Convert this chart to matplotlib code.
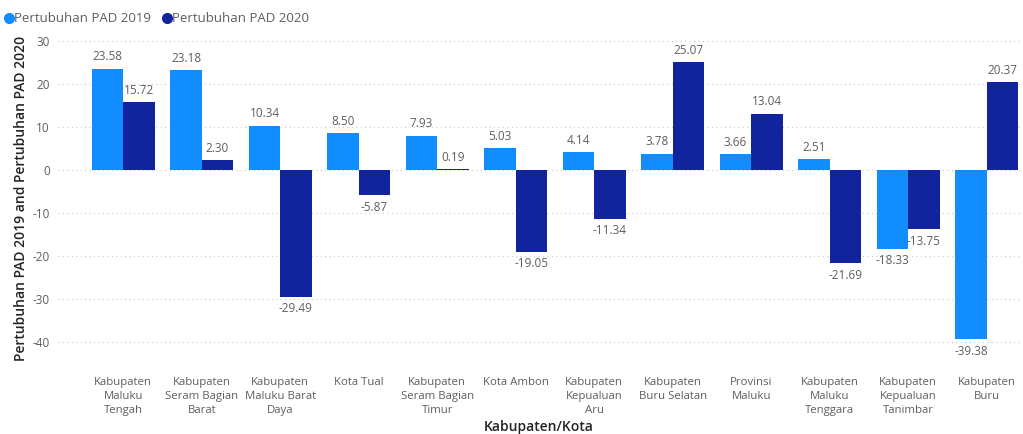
import numpy as np
import matplotlib.pyplot as plt

plt.rcParams['font.family'] = ['Open Sans', 'DejaVu Sans']
plt.rcParams['axes.unicode_minus'] = False

categories = ['Kabupaten\nMaluku\nTengah', 'Kabupaten\nSeram Bagian\nBarat',
              'Kabupaten\nMaluku Barat\nDaya', 'Kota Tual',
              'Kabupaten\nSeram Bagian\nTimur', 'Kota Ambon',
              'Kabupaten\nKepualuan\nAru', 'Kabupaten\nBuru Selatan',
              'Provinsi\nMaluku', 'Kabupaten\nMaluku\nTenggara',
              'Kabupaten\nKepualuan\nTanimbar', 'Kabupaten\nBuru']
pad_2019 = [23.58, 23.18, 10.34, 8.50, 7.93, 5.03, 4.14, 3.78, 3.66, 2.51, -18.33, -39.38]
pad_2020 = [15.72, 2.30, -29.49, -5.87, 0.19, -19.05, -11.34, 25.07, 13.04, -21.69, -13.75, 20.37]

c2019 = '#118DFF'
c2020 = '#12239E'
grey = '#605E5C'

fig = plt.figure(figsize=(10.23, 4.34), dpi=100)
ax = fig.add_axes([0.0567, 0.1624, 0.940, 0.7629])

x = np.arange(len(categories))
w = 0.4
b1 = ax.bar(x - w / 2, pad_2019, w, color=c2019, label='Pertubuhan PAD 2019', zorder=3)
b2 = ax.bar(x + w / 2, pad_2020, w, color=c2020, label='Pertubuhan PAD 2020', zorder=3)

for bars, vals in ((b1, pad_2019), (b2, pad_2020)):
    for r, v in zip(bars, vals):
        cx = r.get_x() + r.get_width() / 2
        if v >= 0:
            ax.annotate(f'{v:.2f}', (cx, v), xytext=(0, 4), textcoords='offset points',
                        ha='center', va='bottom', fontsize=8.5, color=grey)
        else:
            ax.annotate(f'{v:.2f}', (cx, v), xytext=(0, -4), textcoords='offset points',
                        ha='center', va='top', fontsize=8.5, color=grey)

ax.set_xlim(-0.831, 11.42)
ax.set_ylim(-45, 32)
ax.set_yticks([30, 20, 10, 0, -10, -20, -30, -40])
ax.yaxis.grid(True, linestyle=(0, (1, 3)), color='#C8C8C8', linewidth=0.8, zorder=0)
for s in ax.spines.values():
    s.set_visible(False)
ax.tick_params(axis='both', length=0, labelsize=8.5, colors=grey, pad=6)
ax.set_xticks(x)
ax.set_xticklabels(categories, fontsize=8.2, color=grey, linespacing=1.36)
ax.tick_params(axis='x', pad=10)

fig.text(0.527, 0.016, 'Kabupaten/Kota', fontsize=10, color='#252423',
         ha='center', va='center', fontweight='semibold')
ax.set_ylabel('Pertubuhan PAD 2019 and Pertubuhan PAD 2020', fontsize=10,
              color='#252423', labelpad=3, fontweight='semibold')

leg = fig.legend(handles=[b1, b2], loc='upper left', bbox_to_anchor=(-0.011, 1.0),
                 ncol=2, frameon=False, fontsize=9.5, handlelength=0.8, handletextpad=0.2,
                 columnspacing=0.6)
for h in leg.legend_handles:
    h.set_visible(False)
for t in leg.get_texts():
    t.set_color(grey)
# circular legend markers
fig.canvas.draw()
for t, c in zip(leg.get_texts(), (c2019, c2020)):
    bb = t.get_window_extent()
    fx = (bb.x0 - 5) / fig.bbox.width
    fy = (bb.y0 + bb.height / 2) / fig.bbox.height
    fig.add_artist(plt.Line2D([fx], [fy], marker='o', markersize=7, color=c,
                              linestyle='none', transform=fig.transFigure))

fig.savefig('out.png', dpi=100)
